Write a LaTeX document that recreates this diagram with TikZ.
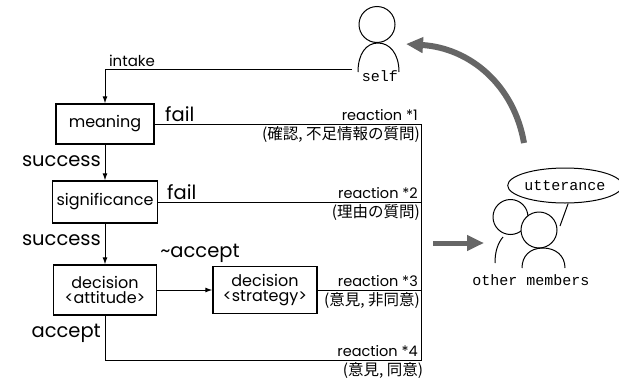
\documentclass[tikz,border=0pt]{standalone}
\usepackage{fontspec}
\setmainfont{Poppins}
\setmonofont{Liberation Mono}
\newfontfamily\jpfont{Noto Sans CJK JP}
\usetikzlibrary{arrows.meta,shapes.geometric}

\begin{document}
\begin{tikzpicture}[x=1pt,y=-1pt,
  box/.style={draw,line width=1.3pt,inner sep=1pt,align=center,
    font=\fontsize{16}{16}\selectfont},
  flow/.style={line width=1pt},
  tip/.style={-{Latex[length=7pt,width=5pt]}},
  big/.style={inner sep=0pt,font=\fontsize{19.5}{19.5}\selectfont},
  react/.style={anchor=south east,inner sep=1pt,font=\fontsize{14.5}{14.5}\selectfont},
  jp/.style={anchor=north east,inner sep=1pt,font=\jpfont\fontsize{15.5}{16}\selectfont},
  who/.style={inner sep=0pt,font=\ttfamily\fontsize{15}{15}\selectfont},
  person/.style={line width=1pt},
  move/.style={line width=6pt,black!60,-{Triangle[length=17pt,width=15pt]}}]
  \useasboundingbox (0,0) rectangle (619,378);

  % chain of checks
  \node[box,minimum width=98pt,minimum height=40pt] (meaning) at (105,124) {meaning};
  \node[box,minimum width=105pt,minimum height=42pt] (significance) at (105,202) {significance};
  \node[box,minimum width=103pt,minimum height=50pt] (attitude) at (105,290) {decision\\[-1pt]<attitude>};
  \node[box,minimum width=104pt,minimum height=47pt] (strategy) at (265,290) {decision\\[-1pt]<strategy>};

  % corners of the reaction lines
  \coordinate (in) at (352,69);
  \coordinate (r1) at (421,124);
  \coordinate (r2) at (421,202);
  \coordinate (r3) at (421,290);
  \coordinate (r4) at (421,360);
  \coordinate (acc) at (attitude |- r4);

  % intake into the chain
  \draw[flow,tip] (in) -- (in -| meaning) -- (meaning);
  \node[inner sep=0pt,font=\fontsize{15}{15}\selectfont] (intake) at (132,61) {intake};

  % success arrows down the chain
  \draw[flow,tip] (meaning) -- (significance);
  \draw[flow,tip] (significance) -- (attitude);
  \draw[flow,tip] (attitude) -- (strategy);

  % fail / reaction lines to the right
  \draw[flow] (meaning) -- (r1);
  \draw[flow] (significance) -- (r2);
  \draw[flow] (strategy) -- (r3);
  \draw[flow] (attitude) -- (acc) -- (r4) -- (r1);

  \node[big,anchor=base west] (fail1) at (165,121) {fail};
  \node[big,anchor=base west] (fail2) at (167,199) {fail};
  \node[big,anchor=east] (succ1) at (101,161) {success};
  \node[big,anchor=east] (succ2) at (101,240) {success};
  \node[big,anchor=base] (notaccept) at (200,257) {\textasciitilde accept};
  \node[big,anchor=east] (accept) at (101,333) {accept};

  \node[react] (react1) at (419,122) {reaction *1};
  \node[react] (react2) at (419,200) {reaction *2};
  \node[react] (react3) at (419,288) {reaction *3};
  \node[react] (react4) at (419,358) {reaction *4};
  \node[jp] (ask1) at (421,125) {(確認, 不足情報の質問)};
  \node[jp] (ask2) at (421,203) {(理由の質問)};
  \node[jp] (opin3) at (421,291) {(意見, 非同意)};
  \node[jp,anchor=north] (opin4) at (383,361) {(意見, 同意)};

  % self
  \draw[person] (377,24.5) circle (18pt);
  \draw[person] (358,72) .. controls (358,54) and (366,43) .. (378,43)
    .. controls (390,43) and (399,54) .. (399,72);
  \node[who] (self) at (380,76) {self};

  % other members
  \draw[person] (510.5,217) circle (17.5pt);
  \draw[person] (495,263) .. controls (495,251) and (498,243) .. (503,237);
  \draw[person,fill=white] (539,230) circle (18pt);
  \draw[person] (522,268) .. controls (522,256) and (530,248) .. (543,248)
    .. controls (556,248) and (565,256) .. (565,268);
  \node[who] (others) at (531,280) {other members};
  \node[draw,ellipse,person,inner sep=0pt,minimum width=104pt,minimum height=35pt,
    font=\ttfamily\fontsize{15}{15}\selectfont] (utter) at (565,185.5) {utterance};
  \coordinate (mouth) at (560,226);
  \draw[person] (mouth) -- (utter.-80);

  % turn taking
  \coordinate (talk) at (524,143);
  \coordinate (hear) at (406,44);
  \draw[move] (talk) .. controls (514,85) and (470,48) .. (hear);
  \coordinate (out) at (433,243);
  \coordinate (to) at (484,243);
  \draw[move,line width=5pt] (out) -- (to);
\end{tikzpicture}
\end{document}
